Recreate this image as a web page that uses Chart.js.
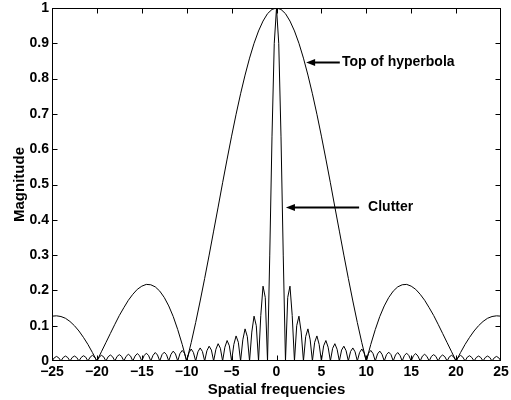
<!DOCTYPE html>
<html>
<head>
<meta charset="utf-8">
<script src="https://cdn.jsdelivr.net/npm/chart.js@4/dist/chart.umd.min.js"></script>
<style>
  html, body { margin: 0; padding: 0; background: #fff; }
  canvas { display: block; }
</style>
</head>
<body>
<canvas id="chart" width="511" height="400"></canvas>
<script>
// Fine frequency grid (step 0.25) for the clutter response
const freqFine = [
  -25,-24.75,-24.5,-24.25, -24,-23.75,-23.5,-23.25, -23,-22.75,-22.5,-22.25,
  -22,-21.75,-21.5,-21.25, -21,-20.75,-20.5,-20.25, -20,-19.75,-19.5,-19.25,
  -19,-18.75,-18.5,-18.25, -18,-17.75,-17.5,-17.25, -17,-16.75,-16.5,-16.25,
  -16,-15.75,-15.5,-15.25, -15,-14.75,-14.5,-14.25, -14,-13.75,-13.5,-13.25,
  -13,-12.75,-12.5,-12.25, -12,-11.75,-11.5,-11.25, -11,-10.75,-10.5,-10.25,
  -10,-9.75,-9.5,-9.25, -9,-8.75,-8.5,-8.25, -8,-7.75,-7.5,-7.25,
  -7,-6.75,-6.5,-6.25, -6,-5.75,-5.5,-5.25, -5,-4.75,-4.5,-4.25,
  -4,-3.75,-3.5,-3.25, -3,-2.75,-2.5,-2.25, -2,-1.75,-1.5,-1.25,
  -1,-0.75,-0.5,-0.25,
  0,0.25,0.5,0.75, 1,1.25,1.5,1.75, 2,2.25,2.5,2.75, 3,3.25,3.5,3.75,
  4,4.25,4.5,4.75, 5,5.25,5.5,5.75, 6,6.25,6.5,6.75, 7,7.25,7.5,7.75,
  8,8.25,8.5,8.75, 9,9.25,9.5,9.75, 10,10.25,10.5,10.75, 11,11.25,11.5,11.75,
  12,12.25,12.5,12.75, 13,13.25,13.5,13.75, 14,14.25,14.5,14.75, 15,15.25,15.5,15.75,
  16,16.25,16.5,16.75, 17,17.25,17.5,17.75, 18,18.25,18.5,18.75, 19,19.25,19.5,19.75,
  20,20.25,20.5,20.75, 21,21.25,21.5,21.75, 22,22.25,22.5,22.75, 23,23.25,23.5,23.75,
  24,24.25,24.5,24.75,
  25
];

// Clutter magnitude at each fine frequency
const clutterMag = [
  0,.009,.013,.009, 0,.010,.014,.010, 0,.010,.014,.010,
  0,.010,.015,.011, 0,.011,.016,.011, 0,.011,.016,.012,
  0,.012,.017,.012, 0,.013,.018,.013, 0,.013,.019,.014,
  0,.014,.021,.015, 0,.015,.022,.016, 0,.016,.024,.017,
  0,.018,.025,.018, 0,.019,.028,.020, 0,.021,.030,.022,
  0,.023,.034,.024, 0,.026,.037,.027, 0,.029,.042,.031,
  0,.033,.049,.036, 0,.039,.058,.043, 0,.047,.071,.053,
  0,.060,.091,.069, 0,.082,.127,.100, 0,.129,.212,.180,
  0,.300,.637,.900,
  1,.900,.637,.300, 0,.180,.212,.129, 0,.100,.127,.082, 0,.069,.091,.060,
  0,.053,.071,.047, 0,.043,.058,.039, 0,.036,.049,.033, 0,.031,.042,.029,
  0,.027,.037,.026, 0,.024,.034,.023, 0,.022,.030,.021, 0,.020,.028,.019,
  0,.018,.025,.018, 0,.017,.024,.016, 0,.016,.022,.015, 0,.015,.021,.014,
  0,.014,.019,.013, 0,.013,.018,.013, 0,.012,.017,.012, 0,.012,.016,.011,
  0,.011,.016,.011, 0,.011,.015,.010, 0,.010,.014,.010, 0,.010,.014,.010,
  0,.009,.013,.009,
  0
];

// Coarse frequency grid (step 0.5) for the hyperbola response
const freqCoarse = [
  -25,-24.5,-24,-23.5,-23,-22.5,-22,-21.5,-21,-20.5,
  -20,-19.5,-19,-18.5,-18,-17.5,-17,-16.5,-16,-15.5,
  -15,-14.5,-14,-13.5,-13,-12.5,-12,-11.5,-11,-10.5,
  -10,-9.5,-9,-8.5,-8,-7.5,-7,-6.5,-6,-5.5,
  -5,-4.5,-4,-3.5,-3,-2.5,-2,-1.5,-1,-0.5,
  0,0.5,1,1.5,2,2.5,3,3.5,4,4.5,
  5,5.5,6,6.5,7,7.5,8,8.5,9,9.5,
  10,10.5,11,11.5,12,12.5,13,13.5,14,14.5,
  15,15.5,16,16.5,17,17.5,18,18.5,19,19.5,
  20,20.5,21,21.5,22,22.5,23,23.5,24,24.5,
  25
];

// Hyperbola magnitude at each coarse frequency
const hyperbolaMag = [
  .127,.128,.126,.121,.112,.100,.085,.067,.047,.024,
  0,.026,.052,.078,.104,.129,.151,.172,.189,.203,
  .212,.217,.216,.210,.198,.180,.156,.126,.089,.047,
  0,.052,.109,.170,.234,.300,.368,.436,.505,.572,
  .637,.699,.757,.810,.858,.900,.935,.963,.984,.996,
  1,.996,.984,.963,.935,.900,.858,.810,.757,.699,
  .637,.572,.505,.436,.368,.300,.234,.170,.109,.052,
  0,.047,.089,.126,.156,.180,.198,.210,.216,.217,
  .212,.203,.189,.172,.151,.129,.104,.078,.052,.026,
  0,.024,.047,.067,.085,.100,.112,.121,.126,.128,
  .127
];

const xTickValues = [-25,-20,-15,-10,-5,0,5,10,15,20,25];
const xTickLabels = ['\u221225','\u221220','\u221215','\u221210','\u22125','0','5','10','15','20','25'];
const yTickValues = [0,0.1,0.2,0.3,0.4,0.5,0.6,0.7,0.8,0.9,1];
const yTickLabels = ['0','0.1','0.2','0.3','0.4','0.5','0.6','0.7','0.8','0.9','1'];

// Callout labels with arrows (data coordinates)
const callouts = [
  { text: 'Top of hyperbola', tipX: 3.3, tailX: 7.05, textX: 7.3, y: 0.847 },
  { text: 'Clutter', tipX: 1.05, tailX: 9.2, textX: 10.2, y: 0.435 }
];

const FONT = '"Liberation Sans", Arial, Helvetica, sans-serif';

// Box frame with inward ticks on all four sides
const framePlugin = {
  id: 'frame',
  afterDatasetsDraw(chart) {
    const { ctx, chartArea: a, scales: { x, y } } = chart;
    const L = a.left + 0.5, R = a.right - 0.5, T = a.top + 0.5, B = a.bottom - 0.5;
    const tick = 5;
    ctx.save();
    ctx.strokeStyle = '#000';
    ctx.lineWidth = 1;
    ctx.strokeRect(L, T, R - L, B - T);
    ctx.beginPath();
    x.ticks.forEach(t => {
      const px = Math.min(Math.round(x.getPixelForValue(t.value)) + 0.5, R);
      ctx.moveTo(px, B); ctx.lineTo(px, B - tick);
      ctx.moveTo(px, T); ctx.lineTo(px, T + tick);
    });
    y.ticks.forEach(t => {
      const py = Math.min(Math.round(y.getPixelForValue(t.value)) + 0.5, B);
      ctx.moveTo(L, py); ctx.lineTo(L + tick, py);
      ctx.moveTo(R, py); ctx.lineTo(R - tick, py);
    });
    ctx.stroke();
    ctx.restore();
  }
};

// Arrows pointing at the two responses, with their labels
const calloutPlugin = {
  id: 'callouts',
  afterDraw(chart) {
    const { ctx, scales: { x, y } } = chart;
    ctx.save();
    ctx.fillStyle = '#000';
    ctx.strokeStyle = '#000';
    callouts.forEach(c => {
      const py = Math.round(y.getPixelForValue(c.y)) + 0.5;
      const tip = x.getPixelForValue(c.tipX);
      const tail = x.getPixelForValue(c.tailX);
      const head = 9;
      ctx.lineWidth = 2;
      ctx.beginPath();
      ctx.moveTo(tail, py);
      ctx.lineTo(tip + head - 1, py);
      ctx.stroke();
      ctx.beginPath();
      ctx.moveTo(tip, py);
      ctx.lineTo(tip + head, py - 3.5);
      ctx.lineTo(tip + head, py + 3.5);
      ctx.closePath();
      ctx.fill();
      ctx.font = 'bold 14px ' + FONT;
      ctx.textAlign = 'left';
      ctx.textBaseline = 'middle';
      ctx.fillText(c.text, x.getPixelForValue(c.textX), py);
    });
    ctx.restore();
  }
};

const zeroPad = s => { s.paddingLeft = s.paddingRight = s.paddingTop = s.paddingBottom = 0; };

new Chart(document.getElementById('chart'), {
  type: 'line',
  data: {
    datasets: [
      {
        label: 'Clutter',
        data: clutterMag.map((v, i) => ({ x: freqFine[i], y: v })),
        borderColor: '#000', borderWidth: 1, pointRadius: 0, tension: 0,
        borderJoinStyle: 'round', fill: false
      },
      {
        label: 'Top of hyperbola',
        data: hyperbolaMag.map((v, i) => ({ x: freqCoarse[i], y: v })),
        borderColor: '#000', borderWidth: 1, pointRadius: 0, tension: 0,
        borderJoinStyle: 'round', fill: false
      }
    ]
  },
  options: {
    responsive: false,
    animation: false,
    devicePixelRatio: 1,
    layout: { padding: { top: 8, right: 10, left: 0, bottom: 0 } },
    plugins: { legend: { display: false }, tooltip: { enabled: false } },
    scales: {
      x: {
        type: 'linear', min: -25, max: 25,
        grid: { display: false, drawTicks: false },
        border: { display: false },
        afterBuildTicks: s => { s.ticks = xTickValues.map(v => ({ value: v })); },
        ticks: {
          autoSkip: false, maxRotation: 0, padding: 3, color: '#000',
          font: { family: FONT, size: 14, weight: 'bold' },
          callback: (v, i) => xTickLabels[i]
        },
        title: {
          display: true, text: 'Spatial frequencies', color: '#000',
          font: { family: FONT, size: 15, weight: 'bold' },
          padding: { top: 0, bottom: 1 }
        },
        afterFit: s => { s.height = 39; zeroPad(s); }
      },
      y: {
        type: 'linear', min: 0, max: 1,
        grid: { display: false, drawTicks: false },
        border: { display: false },
        afterBuildTicks: s => { s.ticks = yTickValues.map(v => ({ value: v })); },
        ticks: {
          autoSkip: false, padding: 3, color: '#000',
          font: { family: FONT, size: 14, weight: 'bold' },
          callback: (v, i) => yTickLabels[i]
        },
        title: {
          display: true, text: 'Magnitude', color: '#000',
          font: { family: FONT, size: 15, weight: 'bold' },
          padding: { top: 11, bottom: 0 }
        },
        afterFit: s => { s.width = 52; zeroPad(s); }
      }
    }
  },
  plugins: [framePlugin, calloutPlugin]
});
</script>
</body>
</html>
